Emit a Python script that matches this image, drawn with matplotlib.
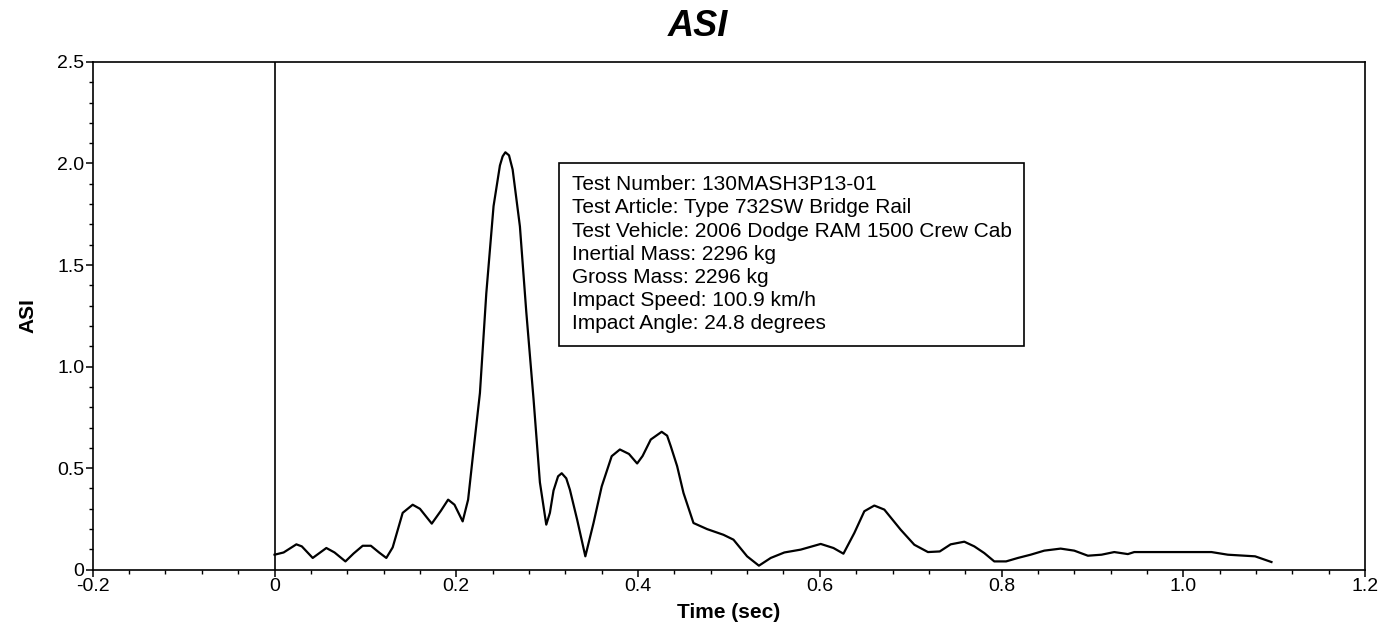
import numpy as np
import matplotlib
matplotlib.use("Agg")
import matplotlib.pyplot as plt
from matplotlib.ticker import MultipleLocator, FuncFormatter

plt.rcParams['font.family'] = ['Liberation Sans', 'DejaVu Sans']

# ASI trace
time = [0.000, 0.010, 0.024, 0.030, 0.042, 0.057, 0.066, 0.078, 0.087, 0.097,
        0.106, 0.115, 0.123, 0.130, 0.141, 0.152, 0.160, 0.173, 0.183, 0.191,
        0.198, 0.207, 0.213, 0.219, 0.226, 0.233, 0.241, 0.248, 0.251, 0.254,
        0.258, 0.262, 0.270, 0.277, 0.285, 0.292, 0.299, 0.303, 0.307, 0.312,
        0.316, 0.321, 0.325, 0.333, 0.342, 0.351, 0.360, 0.371, 0.380, 0.390,
        0.399, 0.405, 0.414, 0.426, 0.432, 0.436, 0.443, 0.450, 0.461, 0.476,
        0.494, 0.505, 0.520, 0.533, 0.546, 0.561, 0.579, 0.601, 0.615, 0.626,
        0.638, 0.649, 0.660, 0.671, 0.689, 0.704, 0.719, 0.732, 0.744, 0.759,
        0.770, 0.781, 0.792, 0.805, 0.818, 0.832, 0.847, 0.865, 0.880, 0.895,
        0.910, 0.924, 0.939, 0.946, 1.031, 1.049, 1.079, 1.097]
asi = [0.074, 0.085, 0.125, 0.115, 0.058, 0.107, 0.085, 0.041, 0.080, 0.118,
       0.118, 0.085, 0.058, 0.110, 0.280, 0.320, 0.300, 0.227, 0.290, 0.345,
       0.320, 0.238, 0.345, 0.590, 0.870, 1.360, 1.790, 1.990, 2.035, 2.055,
       2.040, 1.970, 1.690, 1.270, 0.840, 0.430, 0.222, 0.280, 0.390, 0.460,
       0.475, 0.450, 0.394, 0.246, 0.066, 0.230, 0.410, 0.559, 0.592, 0.570,
       0.523, 0.560, 0.641, 0.679, 0.660, 0.608, 0.510, 0.378, 0.230, 0.200,
       0.172, 0.148, 0.066, 0.020, 0.058, 0.085, 0.099, 0.127, 0.107, 0.079,
       0.181, 0.288, 0.316, 0.296, 0.197, 0.123, 0.087, 0.090, 0.125, 0.138,
       0.115, 0.082, 0.041, 0.041, 0.058, 0.074, 0.094, 0.104, 0.094, 0.069,
       0.074, 0.087, 0.077, 0.087, 0.087, 0.074, 0.066, 0.038]

info = ["Test Number: 130MASH3P13-01",
        "Test Article: Type 732SW Bridge Rail",
        "Test Vehicle: 2006 Dodge RAM 1500 Crew Cab",
        "Inertial Mass: 2296 kg",
        "Gross Mass: 2296 kg",
        "Impact Speed: 100.9 km/h",
        "Impact Angle: 24.8 degrees"]

fig = plt.figure(figsize=(13.85, 6.38), dpi=100)
ax = fig.add_axes([0.067, 0.107, 0.9186, 0.796])

ax.plot(time, asi, color='black', lw=1.6)
ax.axvline(0, color='black', lw=1.2)

ax.set_xlim(-0.2, 1.2)
ax.set_ylim(0, 2.5)
ax.xaxis.set_major_locator(MultipleLocator(0.2))
ax.xaxis.set_minor_locator(MultipleLocator(0.04))
ax.yaxis.set_major_locator(MultipleLocator(0.5))
ax.yaxis.set_minor_locator(MultipleLocator(0.1))

def fmt(v, pos):
    if abs(v) < 1e-9:
        return "0"
    return "%.1f" % v

ax.xaxis.set_major_formatter(FuncFormatter(fmt))
ax.yaxis.set_major_formatter(FuncFormatter(fmt))
ax.tick_params(which='major', length=5, width=1.1, labelsize=14, pad=1)
ax.tick_params(which='minor', length=3, width=1.0)
for s in ax.spines.values():
    s.set_linewidth(1.2)

ax.set_xlabel("Time (sec)", fontsize=15, fontweight='bold', labelpad=6)
ax.set_ylabel("ASI", fontsize=15, fontweight='bold', labelpad=14)
fig.text(0.504, 0.958, "ASI", fontsize=26, fontweight='bold', style='italic',
         ha='center', va='center')

ax.text(0.3766, 0.777, "\n".join(info), transform=ax.transAxes, fontsize=15,
        va='top', ha='left', linespacing=1.28,
        bbox=dict(boxstyle='square,pad=0.6', fc='white', ec='black', lw=1.2))

fig.savefig("out.png", dpi=100)
